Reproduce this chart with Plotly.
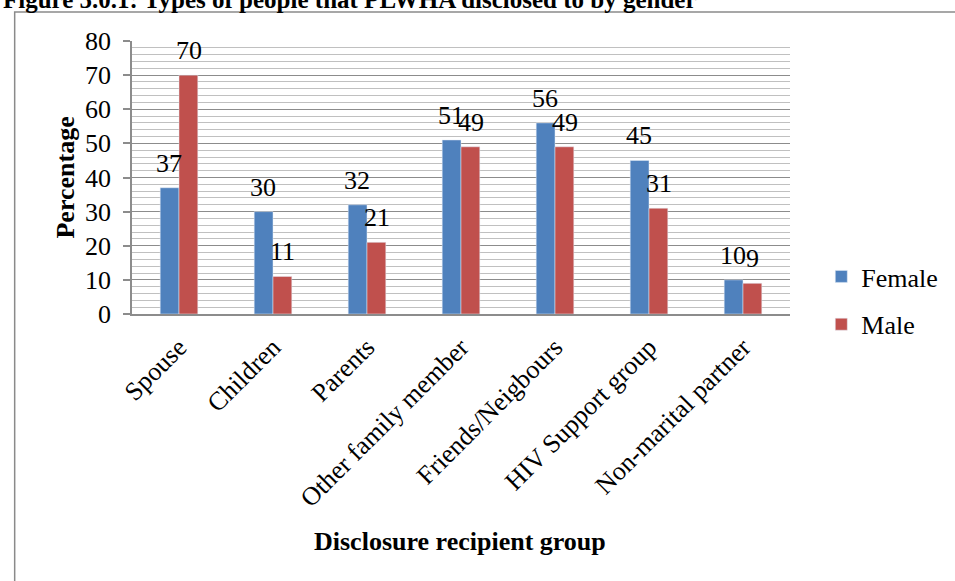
import plotly.graph_objects as go

# Disclosure recipients and the share (%) of each gender that disclosed to them
categories = ["Spouse", "Children", "Parents", "Other family member",
              "Friends/Neigbours", "HIV Support group", "Non-marital partner"]
female = [37, 30, 32, 51, 56, 45, 10]
male = [70, 11, 21, 49, 49, 31, 9]

FONT = "Liberation Serif"
BLUE = "#4F81BD"
RED = "#C0504D"
GRID_MAJOR = "#8c8c8c"
GRID_MINOR = "#c0c0c0"

# plot area in pixels
W, H = 955, 581
L, R, T, B = 132, 805, 41, 314
PW, PH = R - L, B - T


def px_x(x):
    return (x - L) / PW


def px_y(y):
    return (B - y) / PH


fig = go.Figure()
fig.add_trace(go.Bar(name="Female", x=categories, y=female, marker_color=BLUE,
                     legendgroup="f"))
fig.add_trace(go.Bar(name="Male", x=categories, y=male, marker_color=RED,
                     legendgroup="m"))

# value labels above each bar
bar_w = PW / len(categories) * 0.2
annotations = []
for vals, shift in ((female, -bar_w / 2), (male, bar_w / 2)):
    for c, v in zip(categories, vals):
        annotations.append(dict(x=c, y=v, xref="x", yref="y", text=str(v),
                                showarrow=False, xshift=shift, yshift=8,
                                xanchor="center", yanchor="bottom",
                                font=dict(family=FONT, size=26, color="black")))

# axis titles
annotations.append(dict(x=px_x(63), y=px_y(178), xref="paper", yref="paper",
                        xanchor="center", yanchor="middle",
                        text="<b>Percentage</b>", textangle=-90, showarrow=False,
                        font=dict(family=FONT, size=26, color="black")))
annotations.append(dict(x=px_x(467), y=px_y(541), xref="paper", yref="paper",
                        xanchor="center", yanchor="middle",
                        text="<b>Disclosure recipient group</b>", showarrow=False,
                        font=dict(family=FONT, size=26, color="black")))
# figure caption
annotations.append(dict(x=px_x(-2), y=px_y(-1), xref="paper", yref="paper",
                        xanchor="left", yanchor="middle",
                        text="<b>Figure 5.0.1: Types of people that PLWHA disclosed to by gender</b>",
                        showarrow=False,
                        font=dict(family=FONT, size=25, color="black")))

# frame around the chart
shapes = [dict(type="rect", xref="paper", yref="paper",
               x0=px_x(12), y0=px_y(600), x1=px_x(975), y1=px_y(12),
               line=dict(color="#8a8a8a", width=1.5), fillcolor="rgba(0,0,0,0)",
               layer="below")]

fig.update_layout(
    width=W, height=H,
    margin=dict(l=L, r=W - R, t=T, b=H - B, pad=0),
    paper_bgcolor="white", plot_bgcolor="white",
    barmode="group", bargap=0.6, bargroupgap=0,
    font=dict(family=FONT, size=26, color="black"),
    showlegend=True,
    legend=dict(x=px_x(837), y=px_y(253), xanchor="left", yanchor="top",
                font=dict(family=FONT, size=26, color="black"),
                tracegroupgap=11, bgcolor="rgba(0,0,0,0)"),
    annotations=annotations,
    shapes=shapes,
    xaxis=dict(showline=True, linecolor=GRID_MAJOR, linewidth=1.5,
               tickangle=-45, ticks="", showgrid=False, ticklabelstandoff=6,
               tickfont=dict(family=FONT, size=26, color="black")),
    yaxis=dict(range=[0, 80], dtick=10, tick0=0,
               showline=True, linecolor=GRID_MAJOR, linewidth=1.5,
               ticks="outside", ticklen=7, tickcolor=GRID_MAJOR, tickwidth=1.5,
               showgrid=True, gridcolor=GRID_MAJOR, gridwidth=1.3,
               zeroline=False, ticklabelstandoff=7,
               tickfont=dict(family=FONT, size=26, color="black"),
               minor=dict(dtick=2, showgrid=True, gridcolor=GRID_MINOR,
                          gridwidth=1.3, ticks="")),
)

fig.write_html("out.html")
